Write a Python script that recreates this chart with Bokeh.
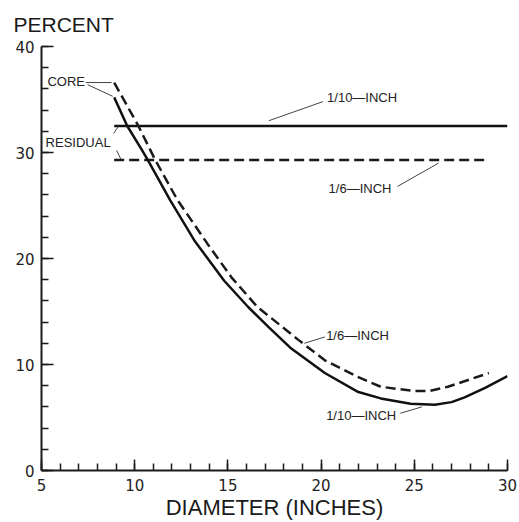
from bokeh.plotting import figure
from bokeh.models import Range1d, SingleIntervalTicker, Label, Title
from bokeh.embed import file_html
from bokeh.resources import INLINE

# Core curves (percent vs diameter)
core_10_x = [8.9, 9.6, 10.4, 10.7, 11.9, 13.2, 14.8, 16.1, 17.2, 18.4, 20.2, 22.0, 23.2, 24.8, 26.1, 27.0, 27.7, 28.8, 30.0]
core_10_y = [35.2, 32.5, 30.2, 29.3, 25.5, 21.7, 17.9, 15.4, 13.5, 11.5, 9.2, 7.4, 6.8, 6.3, 6.2, 6.45, 6.9, 7.8, 8.9]
core_6_x = [8.9, 10.2, 11.1, 12.3, 13.9, 15.2, 16.6, 18.8, 20.2, 22.0, 23.2, 25.0, 25.8, 26.8, 28.0, 29.0]
core_6_y = [36.6, 32.5, 29.3, 25.5, 21.4, 18.2, 15.4, 12.3, 10.4, 8.8, 7.9, 7.5, 7.5, 7.9, 8.6, 9.2]
# Residual lines
resid_10_x = [8.9, 30.0]
resid_10_y = [32.5, 32.5]
resid_6_x = [8.9, 29.0]
resid_6_y = [29.3, 29.3]

x_ticks = [5, 10, 15, 20, 25, 30]
y_ticks = [0, 10, 20, 30, 40]

# annotations: (text, x, y) and leader lines (x0, y0, x1, y1)
labels = [("CORE", 5.32, 36.7), ("RESIDUAL", 5.22, 30.9),
          ("1/10\u2014INCH", 20.32, 35.2), ("1/6\u2014INCH", 20.4, 26.6),
          ("1/6\u2014INCH", 20.27, 12.7), ("1/10\u2014INCH", 20.27, 5.2)]
leaders = [(7.37, 36.6, 8.76, 36.6), (7.47, 36.4, 8.82, 35.3),
           (8.87, 31.8, 9.14, 32.5), (9.03, 30.2, 9.25, 29.4),
           (20.1, 34.8, 17.2, 33.0), (24.1, 26.8, 26.3, 29.0),
           (20.2, 12.6, 19.1, 12.0), (24.25, 5.4, 25.4, 6.0)]

p = figure(width=517, height=522, output_backend="svg", toolbar_location=None,
           x_range=Range1d(5, 30), y_range=Range1d(0, 40), title=None,
           min_border_left=41, min_border_right=10, min_border_top=46, min_border_bottom=52)
p.outline_line_color = None
p.grid.visible = False
p.background_fill_color = "white"

p.line(resid_10_x, resid_10_y, line_color="#111111", line_width=2.5)
p.line(resid_6_x, resid_6_y, line_color="#1a1a1a", line_width=2.5, line_dash="10 5")
p.line(core_10_x, core_10_y, line_color="#111111", line_width=2.5)
p.line(core_6_x, core_6_y, line_color="#1a1a1a", line_width=2.5, line_dash="10 5")

p.segment(x0=[l[0] for l in leaders], y0=[l[1] for l in leaders],
          x1=[l[2] for l in leaders], y1=[l[3] for l in leaders],
          line_color="#444444", line_width=1)

for t, x, y in labels:
    p.add_layout(Label(x=x, y=y, text=t, text_font="Liberation Sans", text_font_size="13px",
                       text_color="#222222", text_align="left", text_baseline="middle"))

p.add_layout(Title(text="PERCENT", text_font="Liberation Sans", text_font_size="21px",
                   text_font_style="normal", text_color="#1a1a1a", align="left",
                   offset=-28, standoff=21), "above")

p.xaxis.axis_label = "DIAMETER (INCHES)"
p.xaxis.axis_label_text_font = "Liberation Sans"
p.xaxis.axis_label_text_font_size = "22px"
p.xaxis.axis_label_text_font_style = "normal"
p.xaxis.axis_label_text_color = "#1a1a1a"
p.xaxis.axis_label_standoff = 1

p.xaxis.ticker = SingleIntervalTicker(interval=5, num_minor_ticks=5)
p.yaxis.ticker = SingleIntervalTicker(interval=10, num_minor_ticks=5)
for ax in (p.xaxis, p.yaxis):
    ax.axis_line_color = "#1a1a1a"
    ax.axis_line_width = 2
    ax.major_tick_line_color = "#1a1a1a"
    ax.minor_tick_line_color = "#1a1a1a"
    ax.major_tick_line_width = 1.5
    ax.minor_tick_line_width = 1.5
    ax.major_tick_out = 0
    ax.minor_tick_out = 0
    ax.major_label_text_font = "DejaVu Sans"
    ax.major_label_text_font_size = "15px"
    ax.major_label_text_color = "#222222"
p.xaxis.major_tick_in = 11
p.xaxis.minor_tick_in = 7
p.yaxis.major_tick_in = 12
p.yaxis.minor_tick_in = 7
p.xaxis.major_label_standoff = 8
p.yaxis.major_label_standoff = 7

open("out.html", "w").write(file_html(p, INLINE))
